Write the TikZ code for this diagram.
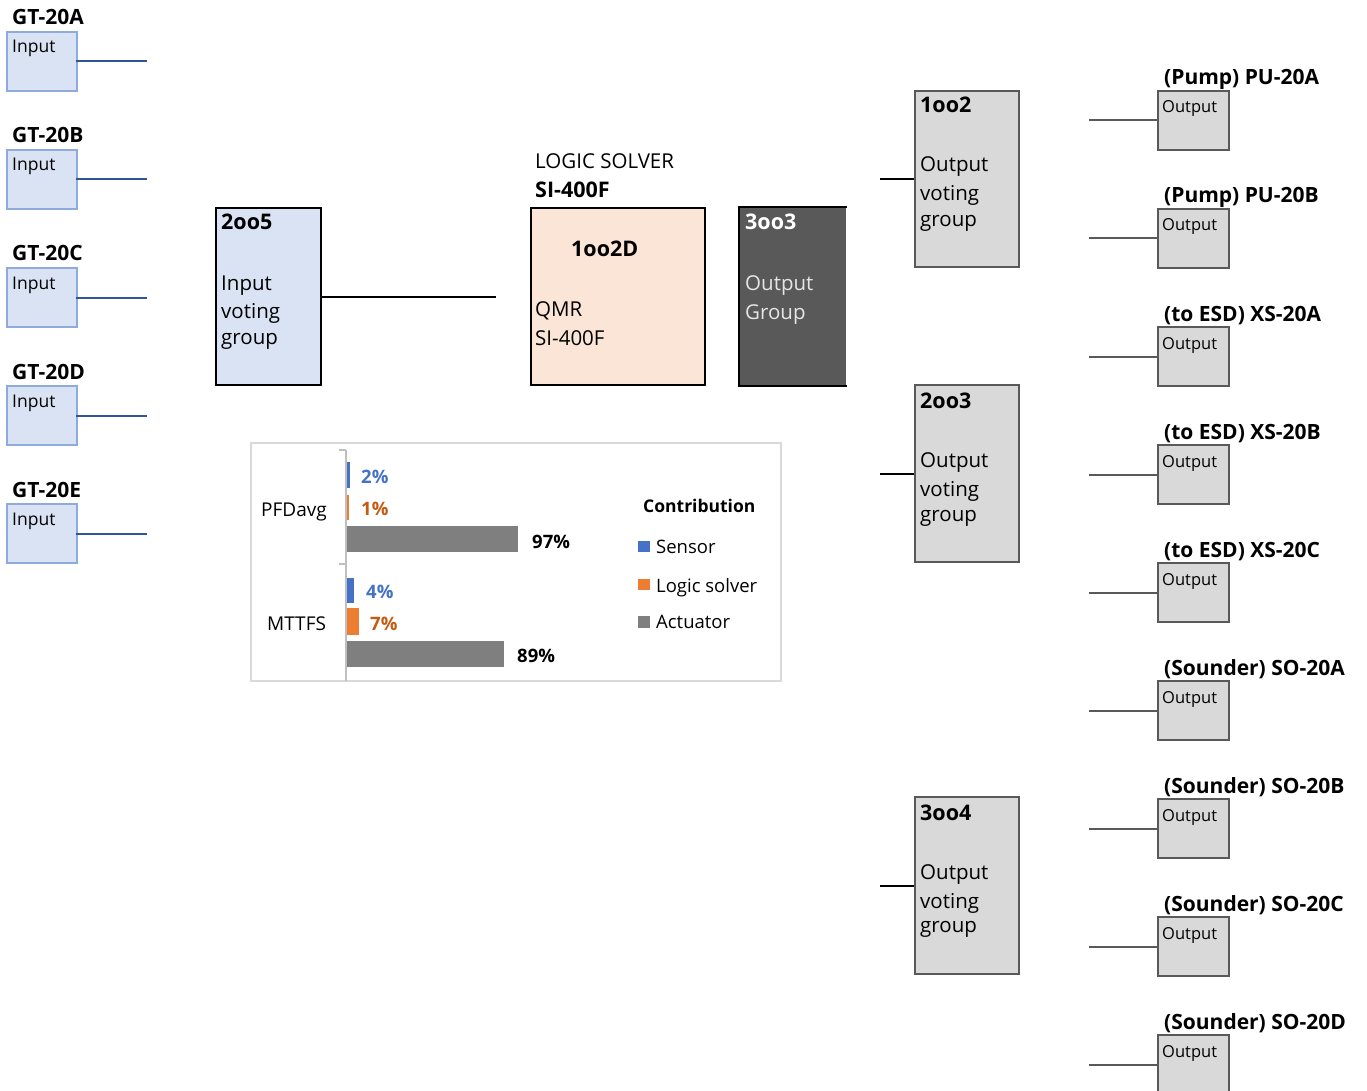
\documentclass[tikz,border=0pt]{standalone}
\usepackage{fontspec}
\setmainfont{Open Sans}
\definecolor{infill}{HTML}{DAE3F3}
\definecolor{inedge}{HTML}{8FAADC}
\definecolor{inline}{HTML}{2F5597}
\definecolor{solverfill}{HTML}{FBE5D6}
\definecolor{darkfill}{HTML}{595959}
\definecolor{outfill}{HTML}{D9D9D9}
\definecolor{outedge}{HTML}{595959}
\definecolor{chartedge}{HTML}{D9D9D9}
\definecolor{axisgray}{HTML}{BFBFBF}
\definecolor{cblue}{HTML}{4472C4}
\definecolor{corange}{HTML}{ED7D31}
\definecolor{cgray}{HTML}{7F7F7F}
\definecolor{cbrown}{HTML}{C55A11}
\definecolor{lighttext}{HTML}{E6E6E6}
\begin{document}
\begin{tikzpicture}[x=1pt,y=-1pt,
  inbox/.style={draw=inedge, fill=infill, line width=2pt, minimum width=70pt, minimum height=59pt, inner sep=0pt},
  outbox/.style={draw=outedge, fill=outfill, line width=2pt, minimum width=71pt, minimum height=59pt, inner sep=0pt},
  bigbox/.style={draw=outedge, fill=outfill, line width=2pt, minimum width=104pt, minimum height=177pt, inner sep=0pt},
  midbox/.style={line width=2pt, minimum height=177pt, inner sep=0pt},
  txt/.style={anchor=base west, inner sep=0pt},
  tagfont/.style={font=\fontsize{21}{24}\selectfont\bfseries},
  smallfont/.style={font=\fontsize{17.5}{20}\selectfont},
  outsmall/.style={font=\fontsize{16.5}{19}\selectfont},
  bigfont/.style={font=\fontsize{20.5}{24}\selectfont},
  titlefont/.style={font=\fontsize{21.5}{24}\selectfont\bfseries},
  chartfont/.style={font=\fontsize{18.5}{21}\selectfont},
  catfont/.style={font=\fontsize{19}{21}\selectfont},
  chartbold/.style={font=\fontsize{18.5}{21}\selectfont\bfseries},
  legbold/.style={font=\fontsize{17.5}{20}\selectfont\bfseries},
  inwire/.style={draw=inline, line width=2pt},
  outwire/.style={draw=outedge, line width=2pt},
  blackwire/.style={draw=black, line width=2pt}
]
\useasboundingbox (0,0) rectangle (1367,1091);

% ---------- Inputs ----------
\foreach \k/\lab in {0/A,1/B,2/C,3/D,4/E}{
  \node[inbox] (in\lab) at (42,{61.5+118*\k}) {};
  \node[txt,tagfont] (inlab\lab) at (12,{25+118*\k}) {GT-20\lab};
  \node[txt,smallfont] (intxt\lab) at (12,{53+118*\k}) {Input};
  \coordinate (inend\lab) at (147,{61.5+118*\k});
  \draw[inwire] ([xshift=-2pt]in\lab.east) -- (inend\lab);
}

% ---------- 2oo5 ----------
\node[midbox, draw=black, fill=infill, minimum width=105pt] (vote) at (268.5,296.5) {};
\node[txt,titlefont] (votet) at (221,230) {2oo5};
\node[txt,bigfont] (vote1) at (221,290) {Input};
\node[txt,bigfont] (vote2) at (221,318) {voting};
\node[txt,bigfont] (vote3) at (221,344) {group};
\coordinate (voteend) at (496,296.5);
\draw[blackwire] (vote.east) -- (voteend);

% ---------- Logic solver ----------
\node[txt,bigfont] (lsa) at (535,169) {LOGIC SOLVER};
\node[txt,titlefont] (lsb) at (535,198) {SI-400F};
\node[midbox, draw=black, fill=solverfill, minimum width=174pt] (solver) at (618,296.5) {};
\node[txt,titlefont] (solt) at (571,257) {1oo2D};
\node[txt,bigfont] (sol1) at (535,316) {QMR};
\node[txt,bigfont] (sol2) at (535,345) {SI-400F};

% ---------- 3oo3 ----------
\node[midbox, fill=darkfill, minimum width=106pt] (grp) at (793,296.5) {};
\draw[black, line width=2pt] (grp.north east) -- (grp.north west) -- (grp.south west) -- (grp.south east);
\node[txt,titlefont,text=white] (grpt) at (745,230) {3oo3};
\node[txt,bigfont,text=lighttext] (grp1) at (745,290) {Output};
\node[txt,bigfont,text=lighttext] (grp2) at (745,319) {Group};

% ---------- Output voting groups ----------
\node[bigbox, minimum height=176pt] (ga) at (967,179) {};
\node[txt,titlefont] (gat) at (920,113) {1oo2};
\node[txt,bigfont] (ga1) at (920,172) {Output};
\node[txt,bigfont] (ga2) at (920,201) {voting};
\node[txt,bigfont] (ga3) at (920,227) {group};
\coordinate (gain) at (880,179);
\draw[blackwire] (gain) -- (ga.west);

\node[bigbox] (gb) at (967,473.5) {};
\node[txt,titlefont] (gbt) at (920,408) {2oo3};
\node[txt,bigfont] (gb1) at (920,467) {Output};
\node[txt,bigfont] (gb2) at (920,496) {voting};
\node[txt,bigfont] (gb3) at (920,521) {group};
\coordinate (gbin) at (880,473.5);
\draw[blackwire] (gbin) -- (gb.west);

\node[bigbox] (gc) at (967,885.5) {};
\node[txt,titlefont] (gct) at (920,820) {3oo4};
\node[txt,bigfont] (gc1) at (920,879) {Output};
\node[txt,bigfont] (gc2) at (920,908) {voting};
\node[txt,bigfont] (gc3) at (920,932) {group};
\coordinate (gcin) at (880,885.5);
\draw[blackwire] (gcin) -- (gc.west);

% ---------- Outputs ----------
\foreach \k/\lab in {0/(Pump) PU-20A,1/(Pump) PU-20B,2/(to ESD) XS-20A,3/(to ESD) XS-20B,4/(to ESD) XS-20C,5/(Sounder) SO-20A,6/(Sounder) SO-20B,7/(Sounder) SO-20C,8/(Sounder) SO-20D}{
  \node[outbox] (out\k) at (1193.5,{120.5+118*\k}) {};
  \node[txt,tagfont] (outlab\k) at (1164,{85+118*\k}) {\lab};
  \node[txt,outsmall] (outtxt\k) at (1162,{113+118*\k}) {Output};
  \coordinate (outstart\k) at (1089,{120.5+118*\k});
  \draw[outwire] (outstart\k) -- (out\k.west);
}

% ---------- Chart ----------
\node[draw=chartedge, line width=1.5pt, minimum width=530pt, minimum height=238pt, inner sep=0pt] (chart) at (516,562) {};
\draw[axisgray, line width=1.2pt] (346,450) -- (346,681);
\draw[axisgray, line width=1.2pt] (339,450) -- (346,450);
\draw[axisgray, line width=1.2pt] (339,564) -- (346,564);
\fill[cblue] (347,462) rectangle (349.5,488);
\fill[corange] (347,495) rectangle (348.5,520);
\fill[cgray] (347,526) rectangle (518,552);
\fill[cblue] (347,578) rectangle (354,603);
\fill[corange] (347,608) rectangle (359,635);
\fill[cgray] (347,641) rectangle (504,667);
\node[txt,catfont] (pfd) at (261,516) {PFDavg};
\node[txt,catfont] (mttfs) at (267,630) {MTTFS};
\node[txt,chartbold,text=cblue] (p2) at (361,483) {2\%};
\node[txt,chartbold,text=cbrown] (p1) at (361,515) {1\%};
\node[txt,chartbold] (p97) at (532,548) {97\%};
\node[txt,chartbold,text=cblue] (m4) at (366,598) {4\%};
\node[txt,chartbold,text=cbrown] (m7) at (370,630) {7\%};
\node[txt,chartbold] (m89) at (517,662) {89\%};
\node[txt,legbold] (leg) at (643,512) {Contribution};
\fill[cblue] (638,541) rectangle (650,552);
\fill[corange] (638,579) rectangle (650,590);
\fill[cgray] (638,616) rectangle (650,628);
\node[txt,chartfont] (legs) at (656,553) {Sensor};
\node[txt,chartfont] (legl) at (656,592) {Logic solver};
\node[txt,chartfont] (lega) at (656,628) {Actuator};
\end{tikzpicture}
\end{document}
